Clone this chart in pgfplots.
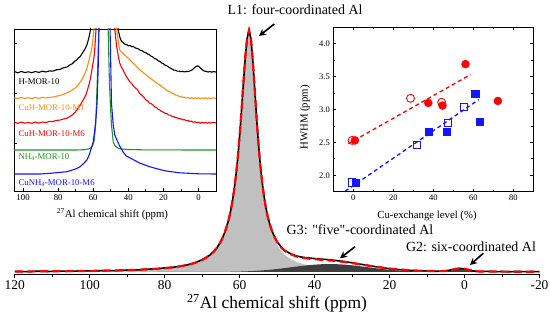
\documentclass[border=0pt]{standalone}
\usepackage{fontspec}
\setmainfont{Liberation Serif}
\usepackage{pgfplots}
\pgfplotsset{compat=1.18}
\usetikzlibrary{arrows.meta}
\definecolor{lgrey}{RGB}{192,192,192}
\definecolor{dgrey}{RGB}{62,62,62}
\definecolor{myred}{RGB}{255,0,0}
\definecolor{myorange}{RGB}{255,140,20}
\definecolor{mygreen}{RGB}{30,150,30}
\definecolor{myblue}{RGB}{20,20,255}
\begin{document}
\begin{tikzpicture}
\useasboundingbox (0,0) rectangle (550bp,326bp);
% ---------------- main spectrum ----------------
\begin{axis}[
  at={(14.8bp,52bp)}, anchor=south west,
  scale only axis, width=524.7bp, height=250bp,
  xmin=-20, xmax=120, x dir=reverse,
  ymin=-2, ymax=248,
  axis y line=none, axis x line*=bottom,
  xtick={-20,0,...,120}, minor x tick num=1,
  tick align=outside, major tick length=4.5bp, minor tick length=3bp,
  every tick/.style={black, line width=0.9bp},
  axis line style={line width=0.9bp},
  /pgf/number format/assume math mode=true,
  xticklabel style={font=\fontsize{13.5}{14}\selectfont, yshift=1bp},
]
\addplot[fill=lgrey, draw=none] coordinates {
(120,0.50) (110,0.71) (100,1.08) (95,1.38) (90,1.84) (85,2.56) (80,3.81) (77,5.04) (74,6.98) (72,8.97) (70,11.91) (68,16.54) (67,19.90) (66,24.36) (65,30.41) (64,38.86) (63,51.02) (62.5,59.10) (62,69.0) (61.5,81.1) (61,96.1) (60.5,114.3) (60,136.2) (59.5,161.5) (59,188.7) (58.5,214.6) (58,233.8) (57.5,241) (57,232.7) (56.5,211.0) (56,182.5) (55.5,153.5) (55,127.5) (54.5,105.6) (54,87.83) (53.5,73.52) (53,62.05) (52.5,52.85) (52,45.41) (51,34.35) (50,26.75) (49,21.35) (48,17.40) (47,14.43) (45,10.37) (43,7.79) (41,6.06) (38,4.37) (35,3.30) (32,2.57) (30,2.22) (28,1.93) (25,1.59) (22,1.34) (20,1.20) (18,1.08) (15,0.93) (12,0.81) (10,0.75) (6,0.64) (5,0.61) (4,0.59) (3,0.57) (2,0.55) (1,0.53) (0,0.51) (-1,0.49) (-2,0.48) (-3,0.47) (-4,0.46) (-10,0.37) (-20,0.29)
} \closedcycle;
\addplot[fill=dgrey, draw=none] coordinates {
(82,0) (80,0.002) (74,0.01) (72,0.01) (70,0.03) (68,0.05) (66,0.09) (64,0.16) (62,0.27) (60,0.45) (58,0.71) (56,1.08) (54,1.58) (52,2.22) (50,3.00) (48,3.89) (47,4.37) (45,5.34) (43,6.26) (41,7.06) (38,7.84) (36,8) (35,7.96) (32,7.38) (30,6.68) (28,5.81) (25,4.37) (22,3.00) (20,2.22) (18,1.58) (15,0.88) (12,0.45) (10,0.27) (5,0.07) (0,0.01) (-5,0)
} \closedcycle;
\addplot[fill=dgrey, draw=none] coordinates {
(8,0) (6,0.13) (5,0.41) (4,0.97) (3,1.82) (2,2.65) (1,3) (0,2.65) (-1,1.82) (-2,0.97) (-3,0.41) (-4,0.13) (-6,0)
} \closedcycle;
\addplot[black, line width=1.6bp] coordinates {
(120,0.6) (117,0.3) (114,0.8) (111,0.5) (108,0.9) (105,0.7) (102,1.2) (99,1.0) (96,1.5) (93,1.4) (90,2.0) (87,2.1) (85,2.8) (82,3.2) (80,4.1) (78,4.6) (77,5.2) (75,6.3) (74,7.1) (72,9.2) (70,12.2) (68,16.8) (67,20.2) (66,24.6) (65,30.8) (64,39.2) (63,51.3) (62.5,59.5) (62,69.3) (61.5,81.5) (61,96.5) (60.5,114.5) (60,136.5) (59.5,162) (59,189) (58.5,215) (58,234) (57.5,241.5) (57,233.5) (56.5,212) (56,184) (55.5,155) (55,129) (54.5,107.5) (54,90) (53.5,76) (53,64.5) (52.5,55.5) (52,48.3) (51,37.6) (50,30.4) (49,25.3) (48,21.8) (47,19.4) (46,17.6) (45,16.3) (44,15.3) (43,14.6) (42,14.2) (41,13.8) (40,13.4) (38,12.8) (36,12.3) (35,11.8) (33,10.9) (32,10.4) (30,9.2) (28,7.9) (26,6.8) (25,6.1) (23,4.9) (22,4.4) (20,3.3) (18,2.5) (16,2.1) (15,1.6) (13,1.4) (12,1.0) (10,1.2) (8,0.7) (6,0.9) (5,1.2) (4,1.8) (3,2.6) (2,3.4) (1,3.6) (0,3.1) (-1,2.2) (-2,1.3) (-3,0.8) (-4,0.5) (-6,0.7) (-8,0.3) (-10,0.5) (-12,0.2) (-14,0.6) (-16,0.3) (-18,0.5) (-20,0.3)
};
\addplot[myred, line width=2.2bp, dash pattern=on 8bp off 4.5bp] coordinates {
(120,0.50) (110,0.71) (100,1.08) (95,1.38) (90,1.84) (85,2.56) (80,3.81) (77,5.04) (74,6.99) (72,8.98) (70,11.94) (68,16.59) (67,19.97) (66,24.45) (65,30.53) (64,39.02) (63,51.23) (62.5,59.34) (62,69.27) (61.5,81.41) (61,96.45) (60.5,114.7) (60,136.65) (59.5,162.0) (59,189.3) (58.5,215.2) (58,234.5) (57.5,241.8) (57,233.6) (56.5,212.0) (56,183.6) (55.5,154.7) (55,128.8) (54.5,107.0) (54,89.4) (53.5,75.25) (53,63.93) (52.5,54.9) (52,47.63) (51,36.95) (50,29.75) (49,24.79) (48,21.29) (47,18.80) (45,15.71) (43,14.05) (41,13.12) (38,12.21) (35,11.26) (32,9.95) (30,8.90) (28,7.74) (25,5.96) (22,4.34) (20,3.42) (18,2.66) (15,1.81) (12,1.26) (10,1.02) (6,0.86) (5,1.09) (4,1.61) (3,2.43) (2,3.23) (1,3.55) (0,3.17) (-1,2.31) (-2,1.45) (-3,0.88) (-4,0.59) (-10,0.37) (-20,0.29)
};
\end{axis}
% ---------------- inset 1: spectra ----------------
\begin{axis}[
  at={(14.3bp,135bp)}, anchor=south west,
  scale only axis, width=201.7bp, height=162bp,
  xmin=-10, xmax=105, x dir=reverse,
  ymin=0, ymax=162,
  xtick={0,20,...,100}, minor x tick num=1,
  ytick={48,98,148}, yticklabels={},
  xtick pos=bottom, ytick pos=left,
  tick align=inside, major tick length=3bp, minor tick length=2bp,
  every tick/.style={black, line width=0.7bp},
  axis line style={line width=0.9bp},
  /pgf/number format/assume math mode=true,
  xticklabel style={font=\fontsize{8.8}{10}\selectfont},
]
\addplot[black, line width=1.1bp] coordinates {
(105,119.5) (103,118.2) (101,119.6) (99,118.4) (97,119.2) (95,118.3) (93,119.5) (91,118.6) (89,119.8) (87,119.0) (85,120.1) (83,119.9) (81,121.2) (79,121.5) (77,123.2) (75,124.0) (73,126.4) (72,127.2) (70.5,129.8) (69.4,131.0) (68.4,133.2) (67.5,134.3) (66.5,137.0) (65.6,139.5) (64.8,141.6) (64,144.5) (63.4,147.2) (62.8,151) (62.2,155.5) (61.5,162) (57,400) (45.8,162) (45,155) (44.5,152) (43.8,149.5) (43,148.5) (42,146.8) (41,146.5) (40,145.2) (39,145.6) (38,144.2) (37,144.5) (36,143.0) (35,142.6) (34,141.8) (33,140.6) (32,140.2) (31,138.8) (30,138.3) (29,137.0) (28,136.3) (27,134.8) (26,134.0) (25,132.4) (24,131.8) (23,130.2) (22,129.6) (21,128.0) (20,127.3) (19,125.8) (18,125.2) (17,123.8) (16,122.9) (15,121.9) (14,121.0) (13,120.6) (12,119.8) (11,119.9) (10,119.3) (9,119.6) (8,119.1) (7,119.5) (6,119.4) (5,120.0) (4,120.6) (3,122.0) (2,123.8) (1,124.8) (0.3,125.2) (-0.5,124.0) (-1.5,122.2) (-2.5,120.8) (-3.5,119.8) (-4.5,119.6) (-5.5,118.9) (-6.5,119.5) (-7.5,118.8) (-8.5,119.4) (-10,119.0)
};
\addplot[myorange, line width=1.1bp] coordinates {
(105,93.4) (103,92.4) (101,93.6) (99,92.6) (97,93.3) (95,92.5) (93,93.5) (91,92.7) (89,93.6) (87,93.0) (85,93.6) (83,93.9) (81,94.8) (79,95.6) (77,96.6) (75,98.2) (73,99.8) (72,101) (70.5,102.8) (69.4,104.3) (68.4,106.5) (67.5,108.8) (66.5,111.3) (65.6,114.3) (64.8,117.3) (64,120.5) (63.4,124.2) (62.8,128) (62.3,131.5) (61.9,135) (61.4,138) (61,141) (60.6,145.5) (60.2,151) (59.6,162) (56,400) (46.7,162) (46.2,156) (45.8,151) (45.3,145.5) (44.9,141) (44,139.2) (43,137.8) (42,135.6) (41.1,134.5) (40,132.6) (39,131.2) (38,129.0) (37,127.3) (36,125.8) (35,124.2) (34,122.0) (33,120.4) (32,119.2) (31,117.6) (30,116.2) (29,114.8) (28,113.5) (27,112.1) (26,111.0) (25,109.4) (24,108.4) (23,107.0) (22,106.1) (21,104.4) (20,103.4) (19,101.8) (18.4,101) (17,99.6) (16,99.0) (15,97.6) (14,97.2) (13,96.0) (12,95.7) (11,94.6) (10,94.4) (9,93.6) (8,93.8) (7,92.9) (6,93.4) (5,92.6) (4,93.3) (3,92.5) (2,93.2) (1,92.6) (0,93.1) (-1,92.4) (-2,93.0) (-3,92.5) (-4,93.2) (-5,92.4) (-6,93.0) (-7,92.5) (-8,93.1) (-10,92.7)
};
\addplot[myred, line width=1.1bp] coordinates {
(105,68.8) (103,67.6) (101,68.9) (99,67.8) (97,68.6) (95,67.7) (93,68.9) (91,67.9) (89,69.0) (87,68.4) (85,69.6) (83,69.5) (81,70.6) (79,70.9) (77,72.0) (75,72.7) (73,74.8) (72,76) (70.5,78.4) (69.4,81) (68.2,83.8) (67,87) (65.6,91.3) (64.2,96) (63.5,99.8) (62.8,104) (62.1,108.5) (61.4,114.3) (60.9,119.5) (60.4,125) (59.9,129.5) (59.5,134.3) (59,145) (58.4,162) (55,400) (47.7,162) (47.1,152) (46.5,143) (45.7,135) (44.9,128) (44,124.2) (43,121) (42,117.6) (41.1,114.3) (40,111.6) (39,109.0) (38,107.4) (37.3,105.5) (36,103.0) (35,101.8) (34,99.0) (33.6,97.7) (32,95.2) (31,93.6) (30,91.0) (29,90.2) (28,88.0) (27,87.3) (26,86) (25,84.2) (24,83.6) (23,81.8) (22,81) (21,79.4) (20,79.0) (19,77.6) (18,77.4) (17,75.9) (16,75.8) (15,74.6) (14,74.4) (13,73.3) (12,73.2) (11,72.2) (10,72.3) (9,71.2) (8,71.3) (7,70.4) (6,70.6) (5,69.6) (4,69.8) (3,68.8) (2,69.2) (1,68.2) (0,68.8) (-1,67.8) (-2,68.6) (-3,67.9) (-4,68.7) (-5,67.8) (-6,68.5) (-7,67.9) (-8,68.6) (-10,68.2)
};
\addplot[mygreen, line width=1.1bp] coordinates {
(105,41) (70,41) (65,41.3) (62.8,42) (61.5,42.8) (60.5,45) (59.5,50) (58.6,66) (57.8,104.3) (57.3,131) (56.9,162) (54,400) (51.5,162) (50.8,111) (50.2,86) (49.6,66) (48.6,49.3) (47.7,45.5) (46,43) (44.9,42.3) (40,41.5) (30,41.1) (-10,41)
};
\addplot[myblue, line width=1.1bp] coordinates {
(105,17) (90,17) (84.5,17.7) (75,19.3) (70,22) (67.5,24.3) (65.5,27.5) (63.6,31) (62.3,36) (61,43) (60,49) (59.1,61) (58.4,74) (57.8,88) (57.2,121) (56.7,162) (54,400) (50.4,162) (49.9,116) (49.6,88) (48.6,66) (47.7,56) (46.5,51) (44.9,45) (43,39) (41.1,35) (37.3,31.5) (33.6,28) (27.8,24.3) (22.1,21.5) (18.4,20) (10.8,18.2) (0,17.2) (-10,17)
};
\end{axis}
% ---------------- inset 2: HWHM ----------------
\begin{axis}[
  at={(333.3bp,134.3bp)}, anchor=south west,
  scale only axis, width=200bp, height=164.4bp,
  xmin=-10, xmax=90, ymin=1.75, ymax=4.25,
  xtick={0,20,...,80}, minor x tick num=1,
  ytick={2,2.5,...,4}, minor y tick num=1,
  tick align=inside, major tick length=3bp, minor tick length=2bp,
  every tick/.style={black, line width=0.7bp},
  axis line style={line width=0.9bp},
  /pgf/number format/assume math mode=true,
  xticklabel style={font=\fontsize{8.5}{10}\selectfont},
  yticklabel style={font=\fontsize{8.5}{10}\selectfont, /pgf/number format/.cd, fixed, fixed zerofill, precision=1},
]
\addplot[myred, line width=1.3bp, dash pattern=on 4bp off 3bp] coordinates {(-2.5,2.48) (58.6,3.53)};
\addplot[myblue, line width=1.3bp, dash pattern=on 4bp off 3bp] coordinates {(-4.1,1.757) (62.7,3.15)};
\addplot[only marks, mark=*, mark size=4bp, mark options={myred, fill=myred}] coordinates {(0.8,2.53) (37.5,3.10) (44.6,3.06) (56.1,3.69) (72.3,3.13)};
\addplot[only marks, mark=o, mark size=4bp, mark options={myred, line width=0.9bp, fill=white}] coordinates {(-0.6,2.53) (28.6,3.17) (44.2,3.11)};
\addplot[only marks, mark=square*, mark size=3.6bp, mark options={myblue, fill=myblue}] coordinates {(1.0,1.89) (37.5,2.66) (46.7,2.66) (60.9,3.24) (63.2,2.81)};
\addplot[only marks, mark=square, mark size=3.6bp, mark options={myblue, line width=0.9bp}] coordinates {(-0.6,1.89) (31.7,2.46) (47.5,2.79) (55.3,3.04)};
\end{axis}
% ---------------- texts ----------------
\node[anchor=west, font=\fontsize{8.8}{10}\selectfont, text=black] at (15bp,244bp) {H-MOR-10};
\node[anchor=west, font=\fontsize{8.8}{10}\selectfont, text=myorange] at (15bp,218bp) {CuH-MOR-10-M1};
\node[anchor=west, font=\fontsize{8.8}{10}\selectfont, text=myred] at (15bp,192bp) {CuH-MOR-10-M6};
\node[anchor=west, font=\fontsize{8.8}{10}\selectfont, text=mygreen] at (15bp,169bp) {NH\textsubscript{4}-MOR-10};
\node[anchor=west, font=\fontsize{8.8}{10}\selectfont, text=myblue] at (15bp,143bp) {CuNH\textsubscript{4}-MOR-10-M6};
\node[font=\fontsize{10.8}{12}\selectfont] at (112.5bp,111.7bp) {\textsuperscript{27}Al chemical shift (ppm)};
\node[font=\fontsize{10.8}{12}\selectfont] at (427bp,110.3bp) {Cu-exchange level (\%)};
\node[font=\fontsize{10.8}{12}\selectfont, rotate=90] at (305bp,208.5bp) {HWHM (ppm)};
\node[font=\fontsize{17.5}{20}\selectfont] at (277bp,23bp) {\textsuperscript{27}Al chemical shift (ppm)};
\node[font=\fontsize{14}{16}\selectfont] at (295bp,316bp) {L1: four-coordinated Al};
\node[font=\fontsize{14}{16}\selectfont\addfontfeatures{Ligatures=TeXOff}] at (360bp,96bp) {G3: "five"-coordinated Al};
\node[font=\fontsize{14}{16}\selectfont] at (471bp,79.5bp) {G2: six-coordinated Al};
\draw[line width=1.6bp, -{Stealth[length=7bp,width=7bp]}] (274.3bp,302bp) -- (259bp,290bp);
\draw[line width=1.6bp, -{Stealth[length=7bp,width=7bp]}] (355bp,79.3bp) -- (340bp,67.7bp);
\draw[line width=1.6bp, -{Stealth[length=7bp,width=7bp]}] (483.3bp,72.7bp) -- (470bp,61bp);
\end{tikzpicture}
\end{document}
